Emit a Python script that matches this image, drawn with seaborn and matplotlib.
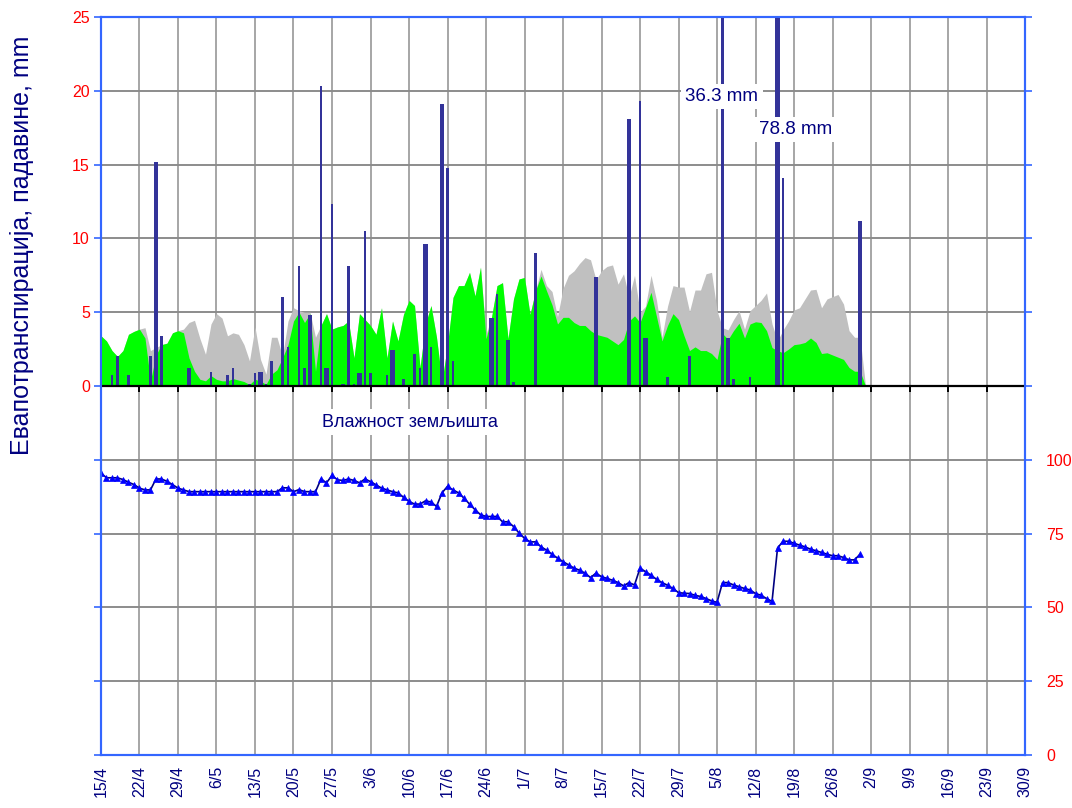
"""
Evapotranspiration, precipitation and soil moisture chart, 15/4 - 30/9
"""

import matplotlib
matplotlib.use("Agg")
import matplotlib.pyplot as plt
import seaborn as sns
import numpy as np
import pandas as pd

# weekly x tick labels (day 0 = 15/4)
tick_labels = ["15/4", "22/4", "29/4", "6/5", "13/5", "20/5", "27/5", "3/6", "10/6",
               "17/6", "24/6", "1/7", "8/7", "15/7", "22/7", "29/7", "5/8", "12/8",
               "19/8", "26/8", "2/9", "9/9", "16/9", "23/9", "30/9"]

# daily potential evapotranspiration (grey area), mm
et_potential = [3.4, 3.05, 2.4, 2.0, 2.4, 3.5, 3.7, 3.85, 3.95, 2.4,
                2.6, 2.8, 2.9, 3.6, 3.75, 3.85, 4.3, 4.45, 3.2, 2.15,
                4.2, 4.9, 4.6, 3.4, 3.6, 3.5, 2.8, 1.7, 4.0, 1.8,
                0.8, 3.3, 3.3, 2.0, 4.4, 5.3, 5.1, 5.0, 5.0, 3.3,
                4.1, 4.9, 3.85, 4.0, 4.1, 4.4, 1.9, 4.9, 4.5, 4.1,
                3.5, 5.3, 1.9, 4.4, 3.05, 4.85, 5.8, 5.45, 1.25, 4.2,
                5.45, 3.3, 0.3, 2.8, 6.0, 6.8, 6.8, 7.7, 6.1, 8.05,
                3.5, 4.65, 6.8, 7.0, 3.2, 5.9, 7.25, 7.35, 4.85, 6.45,
                7.9, 6.8, 6.4, 4.7, 6.6, 7.5, 7.8, 8.3, 8.7, 8.55,
                7.2, 7.8, 8.1, 8.2, 6.9, 7.6, 6.0, 7.5, 5.0, 5.4,
                7.5, 5.8, 3.3, 5.4, 6.8, 6.7, 6.7, 5.05, 6.5, 6.5,
                7.6, 7.7, 5.1, 3.95, 3.8, 4.5, 5.1, 3.85, 5.1, 5.45,
                5.8, 6.3, 4.2, 3.05, 3.8, 4.4, 5.15, 5.3, 5.9, 6.5,
                6.55, 5.3, 5.9, 6.05, 6.2, 5.55, 3.75, 3.3, 3.3, 0.0]

# daily actual evapotranspiration (green area), mm
et_actual = [3.4, 3.05, 2.4, 2.0, 2.4, 3.5, 3.7, 3.85, 3.25, 0.35,
             2.1, 2.8, 2.9, 3.6, 3.75, 3.6, 1.9, 1.0, 0.45, 0.35,
             0.7, 0.45, 0.35, 0.35, 0.5, 0.4, 0.3, 0.1, 0.45, 0.35,
             0.1, 0.8, 1.1, 1.9, 2.8, 4.4, 5.0, 4.3, 4.9, 1.0,
             4.1, 4.9, 3.85, 4.0, 4.1, 4.4, 1.9, 4.9, 4.5, 4.1,
             3.5, 5.3, 1.9, 4.4, 3.05, 4.85, 5.8, 5.45, 1.25, 4.2,
             5.45, 3.3, 0.3, 2.8, 6.0, 6.8, 6.8, 7.7, 6.1, 8.05,
             3.2, 4.65, 6.8, 7.0, 3.2, 5.9, 7.25, 7.35, 4.85, 6.45,
             7.45, 6.45, 5.5, 4.2, 4.65, 4.65, 4.3, 4.1, 4.1, 3.75,
             3.5, 3.4, 3.3, 3.05, 2.8, 3.15, 4.4, 4.75, 4.3, 5.3,
             6.35, 4.7, 3.05, 4.1, 4.9, 4.5, 3.4, 2.4, 2.65, 2.4,
             2.4, 2.2, 1.8, 3.55, 3.15, 3.75, 4.25, 3.25, 4.2, 4.35,
             4.3, 3.75, 2.6, 2.4, 2.25, 2.5, 2.8, 2.85, 2.95, 3.25,
             2.95, 2.2, 2.25, 2.1, 1.95, 1.8, 1.25, 1.0, 1.0, 0.0]

# precipitation, narrow bars (day index, mm)
rain_days = [2, 3, 5, 9, 11, 20, 23, 24, 27, 28, 30, 31, 33, 34, 36, 37, 40, 42, 45,
             46, 48, 49, 52, 55, 57, 58, 60, 63, 64, 72, 75, 79, 98, 103, 107, 113,
             115, 118, 124]
rain_mm = [0.75, 2.0, 0.75, 2.0, 3.4, 0.95, 0.75, 1.2, 0.15, 0.9, 0.15, 1.7, 6.05,
           2.65, 8.1, 1.2, 20.3, 12.3, 8.1, 0.15, 10.5, 0.9, 0.75, 0.5, 2.2, 1.2,
           2.65, 14.75, 1.7, 6.25, 0.3, 9.0, 19.3, 0.6, 2.05, 36.3, 0.5, 0.6, 14.1]

# precipitation, wide bars (day index, mm)
heavy_days = [10, 16, 29, 38, 41, 44, 47, 53, 59, 62, 71, 74, 90, 96, 99, 114, 123, 138]
heavy_mm = [15.2, 1.2, 0.95, 4.8, 1.2, 0.15, 0.9, 2.45, 9.65, 19.1, 4.6, 3.1, 7.4,
            18.1, 3.25, 3.25, 78.8, 11.15]

# daily soil moisture, %
soil_moisture = [95.5, 93.9, 93.9, 93.9, 93.3, 92.4, 91.6, 90.4, 89.8, 89.8,
                 93.5, 93.5, 92.7, 91.6, 90.4, 89.8, 89.2, 89.2, 89.2, 89.2,
                 89.2, 89.2, 89.2, 89.2, 89.2, 89.2, 89.2, 89.2, 89.2, 89.2,
                 89.2, 89.2, 89.2, 90.5, 90.5, 89.2, 89.9, 89.2, 89.2, 89.2,
                 93.5, 92.2, 94.7, 93.2, 93.0, 93.5, 93.0, 92.2, 93.5, 92.6,
                 91.5, 90.4, 89.8, 89.2, 88.8, 87.3, 85.9, 85.0, 85.0, 86.1,
                 85.7, 84.2, 88.8, 91.0, 89.8, 88.8, 87.0, 85.0, 83.1, 81.4,
                 80.8, 80.8, 80.8, 79.0, 79.0, 77.4, 75.2, 73.4, 72.2, 72.2,
                 70.5, 69.4, 68.0, 66.7, 65.5, 64.4, 63.3, 62.6, 61.6, 60.1,
                 61.6, 60.4, 59.8, 59.2, 58.4, 57.3, 58.4, 57.6, 63.3, 62.1,
                 60.9, 59.5, 58.4, 57.5, 56.4, 55.0, 54.8, 54.7, 54.1, 53.7,
                 53.0, 52.2, 51.7, 58.4, 58.4, 57.6, 57.0, 56.4, 55.9, 54.7,
                 54.1, 53.0, 52.0, 70.1, 72.4, 72.4, 71.7, 71.1, 70.5, 69.7,
                 69.2, 68.6, 68.0, 67.5, 67.5, 66.9, 66.1, 66.1, 68.0]

BLUE = "#3366FF"
NAVY = "#000080"
BAR = "#333399"


def main():
    sns.set_theme(style="white")
    plt.rcParams["font.family"] = ["Liberation Sans", "DejaVu Sans"]

    days = np.arange(len(et_actual))
    tick_pos = np.arange(len(tick_labels)) * 7
    df_soil = pd.DataFrame({"day": np.arange(len(soil_moisture)), "soil": soil_moisture})

    fig = plt.figure(figsize=(10.72, 8.08), dpi=100)
    ax1 = fig.add_axes([0.0942, 0.0656, 0.862, 0.9134])
    ax2 = ax1.twinx()

    # grid
    ax1.set_axisbelow(True)
    ax1.grid(axis="x", color="#A6A6A6", lw=1.4)
    ax1.grid(axis="y", color="#8C8C8C", lw=1.4)

    # evapotranspiration areas
    ax1.fill_between(days, et_potential, color="#C0C0C0", lw=0, zorder=2)
    ax1.fill_between(days, et_actual, color="#00FF00", lw=0, zorder=3)

    # precipitation bars
    ax1.bar(rain_days, rain_mm, width=0.38, color=BAR, lw=0, zorder=4)
    ax1.bar(heavy_days, heavy_mm, width=0.8, color=BAR, lw=0, zorder=4)

    # zero line with week ticks
    ax1.axhline(0, color="black", lw=1.6, zorder=5)
    ax1.vlines(tick_pos, -0.4, 0, color="black", lw=1.4, zorder=5)

    ax1.set_xlim(0, 168)
    ax1.set_ylim(-25, 25)
    yt = np.arange(-25, 26, 5)
    ax1.set_yticks(yt)
    ax1.set_yticklabels([str(v) if v >= 0 else "" for v in yt])
    ax1.tick_params(axis="y", left=True, color=BLUE, labelcolor="red", length=5,
                    width=1.2, direction="out", labelsize=11.5, pad=3)
    ax1.set_xticks(tick_pos)
    ax1.set_xticklabels(tick_labels, rotation=90, color=NAVY, fontsize=11.5)
    ax1.tick_params(axis="x", length=0, pad=8)
    ax1.set_ylabel("Евапотранспирација, падавине, mm", color=NAVY, fontsize=18)
    ax1.yaxis.set_label_coords(-0.072, 0.69)

    # notes
    ax1.text(112.9, 19.6, "36.3 mm", color=NAVY, fontsize=13.5, ha="center", va="center",
             zorder=6, bbox=dict(facecolor="white", edgecolor="none", pad=3))
    ax1.text(126.2, 17.4, "78.8 mm", color=NAVY, fontsize=13.5, ha="center", va="center",
             zorder=6, bbox=dict(facecolor="white", edgecolor="none", pad=3))
    ax1.text(56.2, -2.45, "Влажност земљишта", color=NAVY, fontsize=13, ha="center",
             va="center", zorder=6, bbox=dict(facecolor="white", edgecolor="none", pad=3))

    # soil moisture
    sns.lineplot(data=df_soil, x="day", y="soil", ax=ax2, color=NAVY, lw=1.2,
                 marker="^", markersize=5, markerfacecolor="#0000FF",
                 markeredgecolor="#0000FF", markeredgewidth=0.5)
    ax2.set_ylim(0, 250)
    rt = np.arange(0, 251, 25)
    ax2.set_yticks(rt)
    ax2.set_yticklabels([str(v) if v <= 100 else "" for v in rt])
    ax2.tick_params(axis="y", right=True, color=BLUE, labelcolor="red", length=5,
                    width=1.2, direction="out", labelsize=11.5, pad=10)
    ax2.set_ylabel("")
    ax2.set_xlabel("")
    ax1.set_xlabel("")

    for ax in (ax1, ax2):
        for side in ("left", "right", "top", "bottom"):
            ax.spines[side].set_color(BLUE)
            ax.spines[side].set_linewidth(1.5)
            ax.spines[side].set_visible(True)

    fig.savefig("out.png", dpi=100)
    plt.close(fig)


if __name__ == "__main__":
    main()
